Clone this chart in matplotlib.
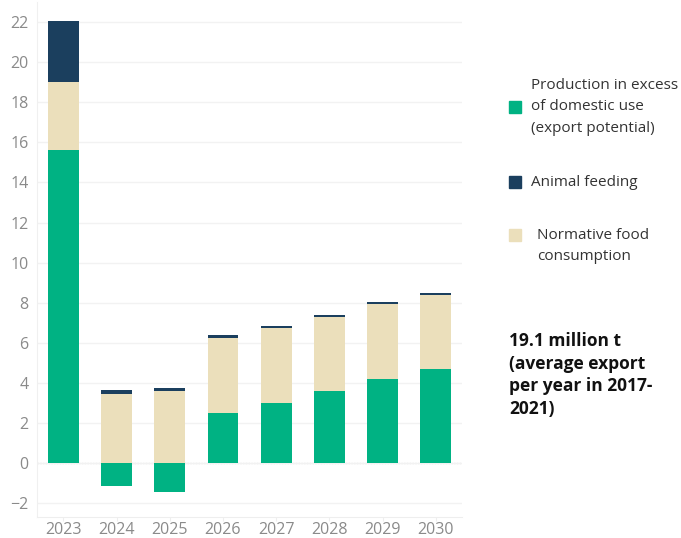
import matplotlib.pyplot as plt
import numpy as np

plt.rcParams['font.family'] = ['Open Sans', 'DejaVu Sans']

years = ['2023', '2024', '2025', '2026', '2027', '2028', '2029', '2030']
excess = [15.6, -1.15, -1.45, 2.5, 3.0, 3.6, 4.2, 4.7]
food = [3.4, 3.45, 3.6, 3.75, 3.75, 3.7, 3.75, 3.7]
feeding = [3.05, 0.2, 0.15, 0.15, 0.07, 0.1, 0.07, 0.1]

c_excess = '#00b283'
c_feed = '#1b3f5e'
c_food = '#ebdfbb'

fig = plt.figure(figsize=(6.81, 5.38), dpi=100)
ax = fig.add_axes([0.054, 0.039, 0.625, 0.957])

x = np.arange(len(years))
excess = np.array(excess)
food = np.array(food)
feeding = np.array(feeding)

# beige sits on green when green is positive, otherwise starts at 0
food_base = np.clip(excess, 0, None)
ax.bar(x, excess, 0.58, color=c_excess, zorder=3)
ax.bar(x, food, 0.58, bottom=food_base, color=c_food, zorder=3)
ax.bar(x, feeding, 0.58, bottom=food_base + food, color=c_feed, zorder=3)

ax.set_xlim(-0.5, 7.5)
ax.set_ylim(-2.7, 23.0)
ax.set_yticks(np.arange(-2, 23, 2))
ax.set_xticks(x)
ax.set_xticklabels(years)
ax.grid(axis='y', color='#f2f2f2', lw=1, zorder=0)
ax.axhline(0, color='#e0e0e0', lw=1, ls=(0, (1, 1)), zorder=1)
for s in ['top', 'right']:
    ax.spines[s].set_visible(False)
ax.spines['left'].set_color('#f0f0f0')
ax.spines['bottom'].set_color('#eeeeee')
ax.tick_params(axis='y', length=0, labelsize=11.5, labelcolor='#8a8a8a', pad=6)
ax.tick_params(axis='x', length=3, color='#eeeeee', labelsize=11.5, labelcolor='#8a8a8a', pad=0.5)

# legend drawn by hand, to match the loose layout
def legend_item(y, color, text, dx=0, dy=0):
    fig.patches.append(plt.Rectangle((509 / 681, 1 - (y + 6) / 538), 12 / 681, 12 / 538,
                                     transform=fig.transFigure, color=color))
    fig.text((531 + dx) / 681, 1 - (y + dy) / 538, text, fontsize=11, color='#333333',
             va='center', ha='left', linespacing=1.55)

legend_item(107, c_excess, 'Production in excess\nof domestic use\n(export potential)')
legend_item(182, c_feed, 'Animal feeding')
legend_item(235, c_food, 'Normative food\nconsumption', dx=6, dy=11)

fig.text(509 / 681, 1 - 375 / 538, '19.1 million t\n(average export\nper year in 2017-\n2021)',
         fontsize=12.5, fontweight='bold', color='#111111', va='center', ha='left',
         linespacing=1.32)

fig.savefig('out.png', dpi=100)
